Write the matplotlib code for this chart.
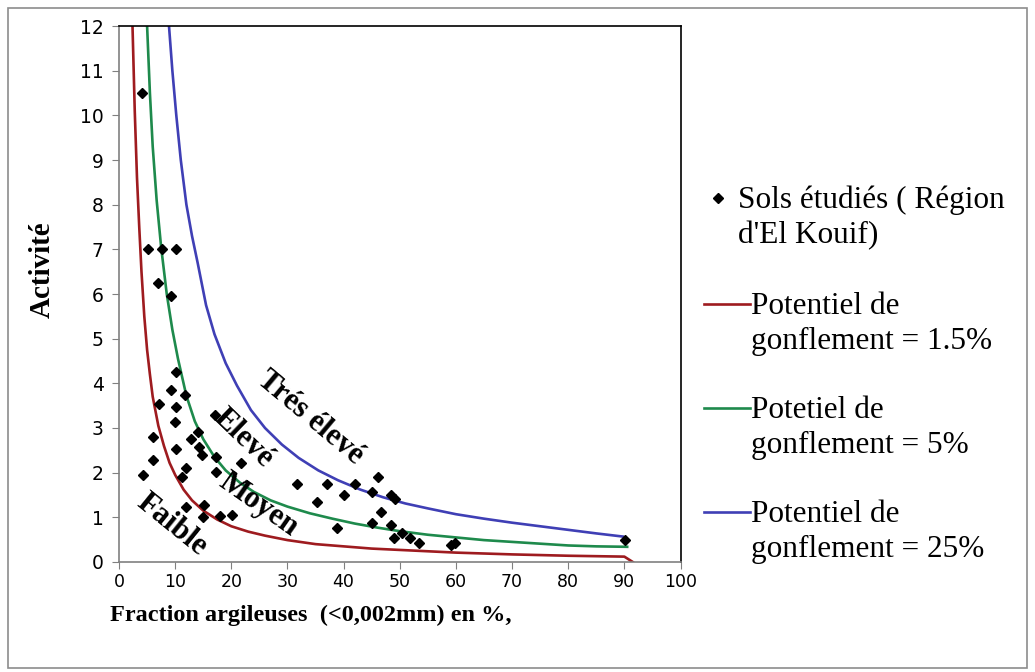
import matplotlib.pyplot as plt
from matplotlib.lines import Line2D
from matplotlib.patches import Rectangle

# Sols étudiés (Région d'El Kouif) : fraction argileuse (%) et activité
argile = [4.1, 5.1, 7.6, 10.1, 7.0, 9.3, 10.1, 9.2, 11.8, 7.1, 10.1, 10.0, 17.1,
          6.0, 14.1, 12.9, 10.1, 14.3, 14.7, 6.1, 11.9, 11.2, 4.2, 17.2, 17.3,
          21.8, 11.9, 15.2, 15.0, 17.9, 20.1, 31.7, 35.2, 37.1, 40.1, 42.0, 46.1,
          45.1, 38.9, 45.1, 48.5, 49.2, 46.6, 48.5, 48.9, 50.4, 51.9, 53.5, 59.2,
          59.8, 90.1]
activite = [10.5, 7.0, 7.0, 7.0, 6.24, 5.95, 4.25, 3.84, 3.74, 3.54, 3.48, 3.14, 3.29,
            2.79, 2.9, 2.75, 2.52, 2.58, 2.4, 2.28, 2.1, 1.91, 1.95, 2.36, 2.02,
            2.21, 1.24, 1.28, 1.01, 1.04, 1.06, 1.74, 1.35, 1.74, 1.49, 1.75, 1.91,
            1.56, 0.76, 0.87, 1.5, 1.42, 1.12, 0.82, 0.54, 0.66, 0.54, 0.43, 0.38,
            0.43, 0.5]

# courbes de potentiel de gonflement
x_pg15 = [2.4, 2.8, 3.2, 3.6, 4.0, 4.5, 5.0, 5.5, 6.0, 7.0, 8.0, 9.0, 10.0, 11.5,
          13.0, 15.0, 17.5, 20.0, 23.0, 26.0, 30.0, 35.0, 40.0, 45.0, 50.0, 55.0,
          60.0, 65.0, 70.0, 75.0, 80.0, 85.0, 90.0, 91.5]
y_pg15 = [12.0, 10.1, 8.6, 7.5, 6.5, 5.5, 4.75, 4.2, 3.7, 3.05, 2.6, 2.22, 1.95, 1.62,
          1.38, 1.15, 0.95, 0.8, 0.68, 0.59, 0.49, 0.4, 0.35, 0.3, 0.27, 0.24,
          0.21, 0.19, 0.17, 0.155, 0.14, 0.13, 0.12, 0.0]

x_pg5 = [5.0, 5.5, 6.0, 6.7, 7.5, 8.5, 9.5, 10.5, 12.0, 13.5, 15.0, 17.0, 19.0, 21.5,
         24.0, 27.0, 30.0, 34.0, 38.0, 42.0, 46.0, 50.0, 55.0, 60.0, 65.0, 70.0,
         75.0, 80.0, 85.0, 90.5]
y_pg5 = [12.0, 10.5, 9.3, 8.1, 7.05, 6.0, 5.2, 4.55, 3.72, 3.15, 2.75, 2.35, 2.05, 1.78,
         1.57, 1.38, 1.24, 1.09, 0.97, 0.86, 0.77, 0.69, 0.61, 0.55, 0.49, 0.45,
         0.41, 0.37, 0.35, 0.34]

x_pg25 = [8.9, 9.5, 10.2, 11.0, 12.0, 13.0, 14.0, 15.5, 17.0, 19.0, 21.0, 23.5, 26.0,
          29.0, 32.0, 35.5, 39.0, 43.0, 47.0, 51.0, 55.0, 60.0, 65.0, 70.0, 75.0,
          80.0, 85.0, 89.7]
y_pg25 = [12.0, 11.0, 10.0, 9.0, 8.0, 7.3, 6.7, 5.75, 5.1, 4.45, 3.95, 3.4, 3.0, 2.63,
          2.33, 2.05, 1.83, 1.62, 1.45, 1.31, 1.2, 1.07, 0.97, 0.88, 0.8, 0.72,
          0.64, 0.57]

rouge = '#9E1B1F'
vert = '#1E8A4C'
bleu = '#3F3FB5'
serif = 'Liberation Serif'

fig = plt.figure(figsize=(10.35, 6.72), dpi=100)
ax = fig.add_axes([0.115, 0.1637, 0.5425, 0.7976])

ax.plot(x_pg15, y_pg15, color=rouge, lw=1.9)
ax.plot(x_pg5, y_pg5, color=vert, lw=1.9)
ax.plot(x_pg25, y_pg25, color=bleu, lw=1.9)
ax.plot(argile, activite, 'D', color='black', ms=5, ls='none')

ax.set_xlim(0, 100)
ax.set_ylim(0, 12)
ax.set_xticks(range(0, 101, 10))
ax.set_yticks(range(0, 13))
ax.tick_params(direction='out', length=5, color='#808080')
ax.tick_params(axis='y', labelsize=13.5, pad=6)
ax.tick_params(axis='x', labelsize=12.5, pad=3)
for lab in ax.get_xticklabels() + ax.get_yticklabels():
    lab.set_fontfamily('DejaVu Sans')
ax.spines['left'].set_color('#808080')
ax.spines['bottom'].set_color('#808080')
ax.spines['top'].set_color('black')
ax.spines['right'].set_color('black')
for s in ax.spines.values():
    s.set_linewidth(1.2)

ax.set_ylabel('Activité', family=serif, fontweight='bold', fontsize=21)
ax.yaxis.set_label_coords(-0.112, 0.545)
ax.set_xlabel('Fraction argileuses  (<0,002mm) en %,', family=serif,
              fontweight='bold', fontsize=17.5)
ax.xaxis.set_label_coords(0.342, -0.08)

# zones de gonflement
zk = dict(family=serif, fontweight='bold', fontsize=22, ha='center', va='center',
          rotation_mode='anchor')
ax.text(34.0, 3.22, 'Trés élevé', rotation=-40, **zk)
ax.text(22.1, 2.78, 'Elevé', rotation=-44, **zk)
ax.text(24.8, 1.28, 'Moyen', rotation=-35, **zk)
ax.text(9.4, 0.83, 'Faible', rotation=-39, **zk)

# légende
def fx(px):
    return px / 1035

def fy(py):
    return 1 - py / 672

lk = dict(family=serif, fontsize=22.5, va='center', ha='left', linespacing=1.27)
fig.add_artist(Line2D([fx(718)], [fy(198)], marker='D', color='black', ms=5))
fig.text(fx(738), fy(218), "Sols étudiés ( Région\nd'El Kouif)", **lk)
entries = [(rouge, 304, 'Potentiel de\ngonflement = 1.5%'),
           (vert, 408, 'Potetiel de\ngonflement = 5%'),
           (bleu, 512, 'Potentiel de\ngonflement = 25%')]
for col, py, txt in entries:
    fig.add_artist(Line2D([fx(704), fx(750)], [fy(py), fy(py)], color=col, lw=1.9))
    fig.text(fx(751), fy(py + 20), txt, **lk)

fig.add_artist(Rectangle((fx(8), fy(668)), fx(1019), 660 / 672, transform=fig.transFigure,
                         fill=False, edgecolor='#8c8c8c', lw=1.2))

fig.savefig('out.png', dpi=100)
